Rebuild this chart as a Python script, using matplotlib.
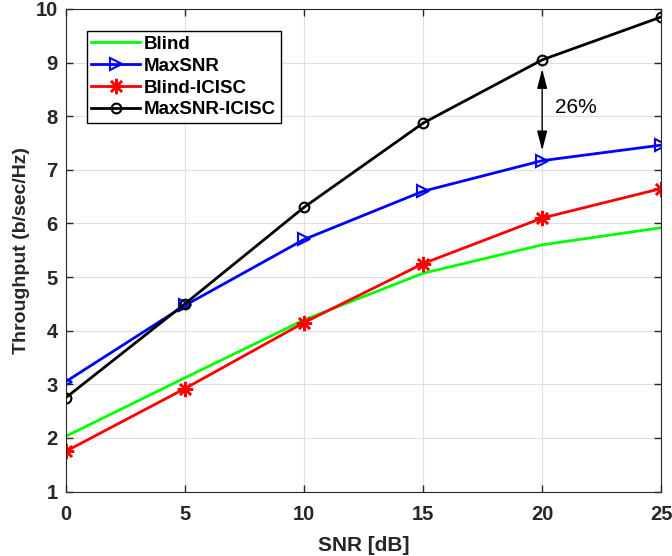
import numpy as np
import matplotlib.pyplot as plt

plt.rcParams['font.family'] = ['Liberation Sans', 'DejaVu Sans']

# SNR points and throughput for each scheme
snr = [0, 5, 10, 15, 20, 25]
blind = [2.03, 3.12, 4.2, 5.07, 5.6, 5.92]
maxsnr = [3.05, 4.47, 5.7, 6.6, 7.17, 7.46]
blind_icisc = [1.75, 2.92, 4.15, 5.25, 6.1, 6.65]
maxsnr_icisc = [2.75, 4.5, 6.3, 7.87, 9.05, 9.85]

fig = plt.figure(figsize=(6.72, 5.56), dpi=100)
ax = fig.add_axes([0.098, 0.116, 0.886, 0.868])

ax.plot(snr, blind, color=(0, 1, 0), lw=2, label='Blind')
ax.plot(snr, maxsnr, color='b', lw=2, marker='>', ms=9, mfc='none', mew=1.5, label='MaxSNR')
ax.plot(snr, blind_icisc, color='r', lw=2, marker=(8, 2, 0), ms=11, mew=1.8, label='Blind-ICISC')
ax.plot(snr, maxsnr_icisc, color='k', lw=2, marker='o', ms=7, mfc='none', mew=1.5, label='MaxSNR-ICISC')

# gain annotation at 20 dB
ax.annotate('', xy=(20, 7.36), xytext=(20, 8.88),
            arrowprops=dict(arrowstyle='<|-|>,head_length=0.85,head_width=0.22',
                            color='k', lw=1, mutation_scale=14, shrinkA=0, shrinkB=0))
ax.text(20.55, 8.16, '26%', fontsize=15, va='center')

ax.set_xlim(0, 25)
ax.set_ylim(1, 10)
ax.set_xticks([0, 5, 10, 15, 20, 25])
ax.set_yticks(range(1, 11))
ax.grid(True, color='#dfdfdf', lw=0.8)
ax.tick_params(direction='in', labelsize=14.5, width=1, length=5, colors='#262626', top=True, right=True)
ax.tick_params(axis='x', pad=10)
ax.tick_params(axis='y', pad=6)
for lab in ax.get_xticklabels() + ax.get_yticklabels():
    lab.set_fontweight('bold')
for s in ax.spines.values():
    s.set_color('#262626')
ax.set_xlabel('SNR [dB]', fontsize=15, fontweight='bold', color='#262626', labelpad=8)
ax.set_ylabel('Throughput (b/sec/Hz)', fontsize=14, fontweight='bold', color='#262626', labelpad=4)

leg = ax.legend(loc='upper left', bbox_to_anchor=(0.035, 0.954), prop={'weight': 'bold', 'size': 13.5},
                fancybox=False, edgecolor='k', framealpha=1, handlelength=2.6,
                borderpad=0.25, labelspacing=0.25, handletextpad=0.2, borderaxespad=0)
leg.get_frame().set_linewidth(1)

fig.savefig('out.png', dpi=100)
